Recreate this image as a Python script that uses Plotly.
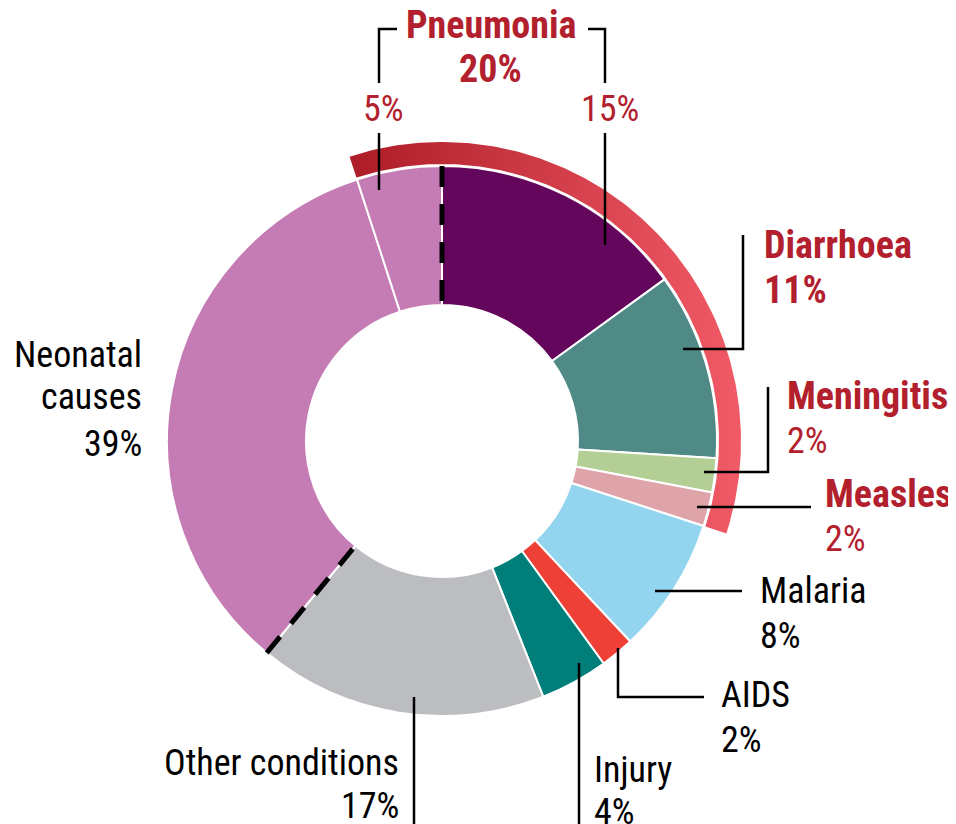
import math
import plotly.graph_objects as go

# ---------------- data ----------------
slice_names = ["Pneumonia (post-neonatal)", "Diarrhoea", "Meningitis", "Measles",
               "Malaria", "AIDS", "Injury", "Other conditions",
               "Neonatal causes (other)", "Neonatal pneumonia"]
slice_values = [15, 11, 2, 2, 8, 2, 4, 17, 34, 5]
slice_colors = ["#64075c", "#4f8a87", "#b4cf95", "#dea4aa", "#93d5ef",
                "#ee4036", "#007f7a", "#bcbdc0", "#c57cb5", "#c57cb5"]

neonatal_total = 39
neonatal_pneumonia = 5
pneumonia_total = 20
pneumonia_post = 15

# ---------------- geometry (window pixels) ----------------
W, H = 956, 824          # browser window
OFF = 8                  # page body margin: figure starts 8px in from the window edge
FIG_W, FIG_H = W - OFF, H - OFF
CX, CY = 442, 441
R, R_HOLE = 275, 136
RING_IN, RING_OUT = 277, 299

RED = "#b3202d"
FONT = "Liberation Sans Narrow, Arial Narrow, Roboto Condensed, Roboto, sans-serif"
FS = 36
FS_B = 38


def pt(frac, r):
    a = 2 * math.pi * frac
    return CX + r * math.sin(a), CY - r * math.cos(a)


fig = go.Figure()

# donut
fig.add_trace(go.Pie(
    labels=slice_names, values=slice_values, sort=False, direction="clockwise",
    rotation=0, hole=R_HOLE / R, textinfo="none", hoverinfo="label+value",
    marker=dict(colors=slice_colors, line=dict(color="white", width=2)),
    domain=dict(x=[(CX - R - OFF) / FIG_W, (CX + R - OFF) / FIG_W],
                y=[1 - (CY + R - OFF) / FIG_H, 1 - (CY - R - OFF) / FIG_H]),
    showlegend=False,
))

# outer pneumonia / diarrhoea / meningitis / measles ring
ring_start = -neonatal_pneumonia / 100
ring_end = sum(slice_values[:4]) / 100
N = 200
xs, ys = [], []
for i in range(N + 1):
    f = ring_start + (ring_end - ring_start) * i / N
    x, y = pt(f, RING_OUT)
    xs.append(x); ys.append(y)
for i in range(N, -1, -1):
    f = ring_start + (ring_end - ring_start) * i / N
    x, y = pt(f, RING_IN)
    xs.append(x); ys.append(y)
xs.append(xs[0]); ys.append(ys[0])
fig.add_trace(go.Scatter(
    x=xs, y=ys, mode="lines", fill="toself", line=dict(width=0, color="rgba(0,0,0,0)"),
    fillgradient=dict(type="horizontal", colorscale=[[0, "#ad1d27"], [1, "#f05a66"]],
                      start=350, stop=735),
    hoverinfo="skip", showlegend=False,
))

shapes = []
# dashed boundaries
for frac in [0, sum(slice_values[:8]) / 100]:
    x0, y0 = pt(frac, R)
    x1, y1 = pt(frac, R_HOLE)
    shapes.append(dict(type="line", xref="x", yref="y", x0=x0, y0=y0, x1=x1, y1=y1,
                       line=dict(color="black", width=5, dash="21px,17px")))

# leader lines
leaders = [
    "M379,190 L379,133",
    "M379,83 L379,29 L397,29",
    "M588,29 L605,29 L605,83",
    "M605,133 L605,245",
    "M743,235 L743,349 L683,349",
    "M768,387 L768,472 L704,472",
    "M697,507 L811,507",
    "M655,591 L742,591",
    "M618,648 L618,697 L704,697",
    "M579,663 L579,830",
    "M414,697 L414,830",
]
for p in leaders:
    shapes.append(dict(type="path", xref="x", yref="y", path=p,
                       line=dict(color="black", width=2.5)))

# labels: (text, x, y_mid, xanchor, color, bold)
labels = [
    ("Pneumonia", 491, 25, "center", RED, True),
    (f"{pneumonia_total}%", 490, 68.5, "center", RED, True),
    (f"{neonatal_pneumonia}%", 383, 108.5, "center", RED, False),
    (f"{pneumonia_post}%", 610, 108.5, "center", RED, False),
    ("Diarrhoea", 762, 244.5, "left", RED, True),
    (f"{slice_values[1]}%", 762, 289.5, "left", RED, True),
    ("Meningitis", 785, 395.5, "left", RED, True),
    (f"{slice_values[2]}%", 785, 440.5, "left", RED, False),
    ("Measles", 823, 493.5, "left", RED, True),
    (f"{slice_values[3]}%", 823, 538.5, "left", RED, False),
    ("Malaria", 758, 591, "left", "black", False),
    (f"{slice_values[4]}%", 758, 636, "left", "black", False),
    ("AIDS", 719, 695, "left", "black", False),
    (f"{slice_values[5]}%", 719, 740, "left", "black", False),
    ("Injury", 592, 769.5, "left", "black", False),
    (f"{slice_values[6]}%", 592, 812, "left", "black", False),
    ("Other conditions", 401, 762.5, "right", "black", False),
    (f"{slice_values[7]}%", 401, 805.5, "right", "black", False),
    ("Neonatal", 144, 355, "right", "black", False),
    ("causes", 144, 397, "right", "black", False),
    (f"{neonatal_total}%", 144, 444, "right", "black", False),
]
annotations = []
for text, x, y, xa, col, bold in labels:
    annotations.append(dict(
        text=f"<b>{text}</b>" if bold else text, x=x, y=y, xref="x", yref="y",
        xanchor=xa, yanchor="middle", showarrow=False,
        font=dict(family=FONT, size=FS_B if bold else FS, color=col)))

fig.update_layout(
    width=FIG_W, height=FIG_H, margin=dict(l=0, r=0, t=0, b=0),
    paper_bgcolor="white", plot_bgcolor="white",
    xaxis=dict(range=[OFF, W], visible=False, fixedrange=True),
    yaxis=dict(range=[H, OFF], visible=False, fixedrange=True),
    shapes=shapes, annotations=annotations, showlegend=False,
)

fig.write_html("out.html")
